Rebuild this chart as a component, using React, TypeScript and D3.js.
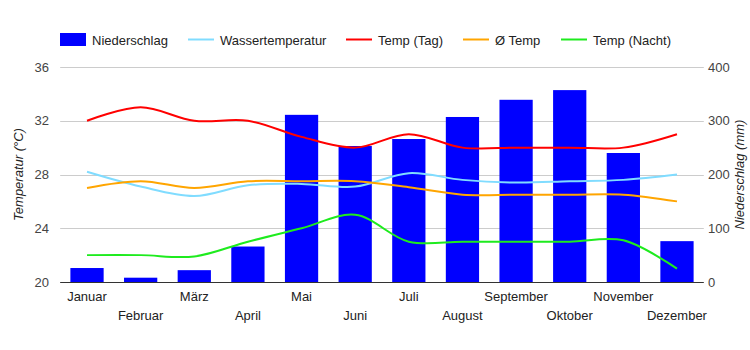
import React from "react";
import * as d3 from "d3";

const months = ["Januar","Februar","März","April","Mai","Juni","Juli","August","September","Oktober","November","Dezember"];
const precip = [26, 8, 22, 66, 311, 253, 266, 307, 339, 357, 240, 76];
const waterTemp = [28.2, 27.1, 26.4, 27.2, 27.3, 27.1, 28.1, 27.6, 27.4, 27.5, 27.6, 28.0];
const dayTemp = [32.0, 33.0, 32.0, 32.0, 30.8, 30.0, 31.0, 30.0, 30.0, 30.0, 30.0, 31.0];
const avgTemp = [27.0, 27.5, 27.0, 27.5, 27.5, 27.5, 27.05, 26.5, 26.5, 26.5, 26.5, 26.0];
const nightTemp = [22.0, 22.0, 21.9, 23.0, 24.0, 25.0, 23.0, 23.0, 23.0, 23.0, 23.1, 21.0];
const tempTicks = [20, 24, 28, 32, 36];
const precipTicks = [0, 100, 200, 300, 400];

const FONT = "'Liberation Sans', Arial, sans-serif";

export default function App() {
  const W = 750, H = 350;
  const left = 60.2, right = 703.8, top = 67, bottom = 282;
  const x = d3.scaleBand<string>().domain(months).range([left, right]).paddingInner(0.38).paddingOuter(0.19);
  const xc = d3.scaleBand<string>().domain(months).range([left, right]);
  const cx = (m: string) => (xc(m) as number) + xc.bandwidth() / 2;
  const yT = d3.scaleLinear().domain([20, 36]).range([bottom, top]);
  const yP = d3.scaleLinear().domain([0, 400]).range([bottom, top]);

  const line = d3.line<number>()
    .x((_, i) => cx(months[i]))
    .y((d) => yT(d))
    .curve(d3.curveCatmullRom.alpha(0.5));

  const series = [
    { name: "Wassertemperatur", data: waterTemp, color: "#80dcff" },
    { name: "Temp (Tag)", data: dayTemp, color: "#ff0000" },
    { name: "Ø Temp", data: avgTemp, color: "#ffa500" },
    { name: "Temp (Nacht)", data: nightTemp, color: "#1eeb1e" },
  ];
  const drawOrder = [series[1], series[0], series[2], series[3]];

  const legend = [
    { name: "Niederschlag", kind: "rect", color: "#0000ff", x: 60 },
    { name: "Wassertemperatur", kind: "line", color: "#80dcff", x: 188 },
    { name: "Temp (Tag)", kind: "line", color: "#ff0000", x: 346 },
    { name: "Ø Temp", kind: "line", color: "#ffa500", x: 463 },
    { name: "Temp (Nacht)", kind: "line", color: "#1eeb1e", x: 561 },
  ];

  return (
    <svg width={W} height={H} style={{ position: "absolute", left: 0, top: 0, background: "#fff" }} fontFamily={FONT}>
      {/* legend */}
      {legend.map((l) => (
        <g key={l.name}>
          {l.kind === "rect" ? (
            <rect x={l.x} y={33} width={26} height={13} fill={l.color} />
          ) : (
            <line x1={l.x} x2={l.x + 26} y1={39.5} y2={39.5} stroke={l.color} strokeWidth={2} />
          )}
          <text x={l.x + 32} y={44.5} fontSize={13} fill="#222">{l.name}</text>
        </g>
      ))}

      {/* gridlines */}
      {tempTicks.map((t) => (
        <line key={t} x1={left} x2={right} y1={Math.round(yT(t)) + 0.5} y2={Math.round(yT(t)) + 0.5} stroke="#cccccc" strokeWidth={1} />
      ))}

      {/* bars */}
      {months.map((m, i) => (
        <rect key={m} x={x(m)} y={yP(precip[i])} width={x.bandwidth()} height={bottom - yP(precip[i])} fill="#0000ff" />
      ))}

      {/* lines */}
      {drawOrder.map((s) => (
        <path key={s.name} d={line(s.data) as string} fill="none" stroke={s.color} strokeWidth={2} />
      ))}

      {/* baseline */}
      <line x1={left} x2={right} y1={bottom + 0.5} y2={bottom + 0.5} stroke="#333" strokeWidth={1} />

      {/* left ticks */}
      {tempTicks.map((t) => (
        <text key={t} x={49} y={yT(t) + 4.5} fontSize={13} fill="#444" textAnchor="end">{t}</text>
      ))}
      {/* right ticks */}
      {precipTicks.map((t) => (
        <text key={t} x={708} y={yP(t) + 4.5} fontSize={13} fill="#444" textAnchor="start">{t}</text>
      ))}

      {/* axis titles */}
      <text transform={`translate(23,${(top + bottom) / 2}) rotate(-90)`} fontSize={13} fontStyle="italic" fill="#222" textAnchor="middle">Temperatur (°C)</text>
      <text transform={`translate(744,${(top + bottom) / 2}) rotate(-90)`} fontSize={13} fontStyle="italic" fill="#222" textAnchor="middle">Niederschlag (mm)</text>

      {/* x labels */}
      {months.map((m, i) => (
        <text key={m} x={cx(m)} y={i % 2 === 0 ? 301 : 319.5} fontSize={13} fill="#222" textAnchor="middle">{m}</text>
      ))}
    </svg>
  );
}
